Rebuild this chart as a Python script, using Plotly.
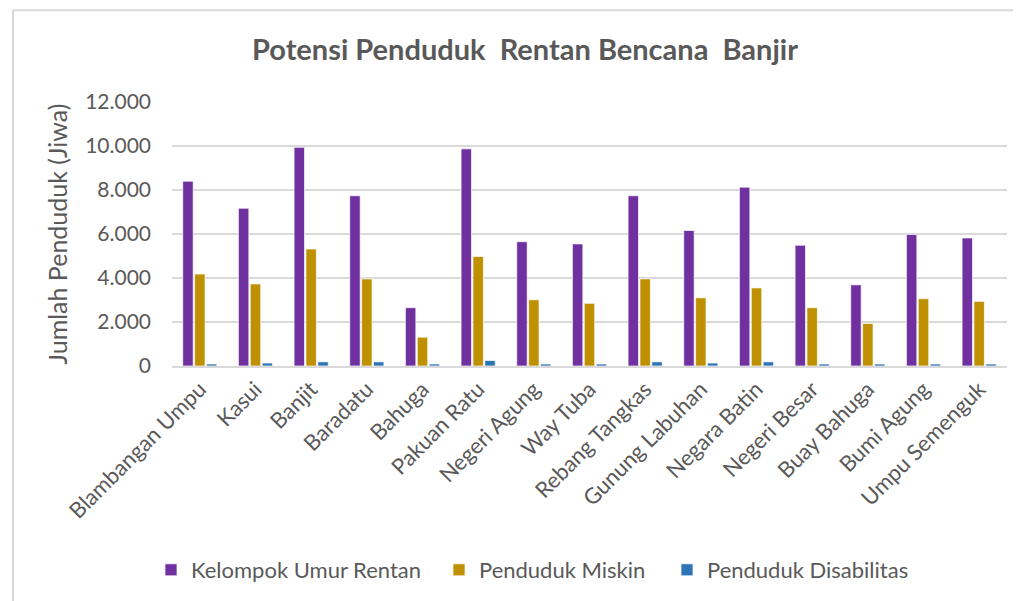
import plotly.graph_objects as go

kecamatan = ['Blambangan Umpu', 'Kasui', 'Banjit', 'Baradatu', 'Bahuga', 'Pakuan Ratu',
             'Negeri Agung', 'Way Tuba', 'Rebang Tangkas', 'Gunung Labuhan', 'Negara Batin',
             'Negeri Besar', 'Buay Bahuga', 'Bumi Agung', 'Umpu Semenguk']

umur_rentan = [8400, 7170, 9940, 7740, 2650, 9870, 5650, 5550, 7740, 6160, 8130, 5490, 3690, 5980, 5820]
miskin = [4180, 3730, 5320, 3960, 1310, 4980, 3010, 2850, 3960, 3100, 3550, 2650, 1930, 3060, 2940]
disabilitas = [90, 135, 190, 190, 90, 250, 90, 90, 190, 135, 190, 90, 90, 90, 90]

series = [
    ('Kelompok Umur Rentan', umur_rentan, '#7030A0'),
    ('Penduduk Miskin', miskin, '#BF9000'),
    ('Penduduk Disabilitas', disabilitas, '#2E75B6'),
]

FONT = 'Lato'
GREY = '#595959'

# page body has an 8px margin, so the figure is sized to the visible area
W, H = 1013, 593
L, R, T, B = 164, 14, 94, 234
plot_w, plot_h = W - L - R, H - T - B

# left edge (px) of each legend entry, one legend per series
legend_left = [143, 431, 659]

fig = go.Figure()
legends = {}
for i, (name, vals, color) in enumerate(series):
    key = f'legend{i + 2}'
    fig.add_trace(go.Bar(
        x=kecamatan, y=vals, name=name, legend=key,
        marker=dict(color=color, line=dict(color='rgba(255,255,255,0.7)', width=1)),
    ))
    legends[key] = dict(
        orientation='h', x=(legend_left[i] - L) / plot_w, xanchor='left',
        y=-203 / plot_h, yanchor='middle',
        font=dict(size=22, color=GREY), itemwidth=30, bgcolor='rgba(0,0,0,0)',
    )

fig.update_layout(
    width=W, height=H,
    margin=dict(l=L, r=R, t=T, b=B),
    paper_bgcolor='white', plot_bgcolor='white',
    separators=',.',
    barmode='group', bargap=0.36, bargroupgap=0.12,
    font=dict(family=FONT, color=GREY, size=21),
    title=dict(
        text='Potensi Penduduk  Rentan Bencana  Banjir',
        x=517 / W, xanchor='center', y=1 - 42 / H, yanchor='middle',
        font=dict(family=FONT, size=29, color=GREY, weight='bold'),
    ),
    xaxis=dict(
        tickangle=-45, tickfont=dict(size=22, color=GREY),
        showgrid=False, showline=True, linecolor='#D9D9D9', linewidth=1.5,
        ticks='',
    ),
    yaxis=dict(
        range=[0, 12000], dtick=2000, tickformat=',d',
        tickfont=dict(size=21, color=GREY),
        gridcolor='#D9D9D9', gridwidth=1.5, zeroline=False,
        ticklabelstandoff=20,
        title=dict(text='Jumlah Penduduk (Jiwa)', font=dict(size=25, color=GREY), standoff=10),
    ),
    shapes=[dict(
        type='rect', xref='paper', yref='paper',
        x0=(5 - L) / plot_w, x1=1.2, y0=-1.2, y1=1 + (T - 2) / plot_h,
        line=dict(color='#D9D9D9', width=2), fillcolor='rgba(0,0,0,0)', layer='below',
    )],
    **legends,
)

fig.write_html('out.html')
